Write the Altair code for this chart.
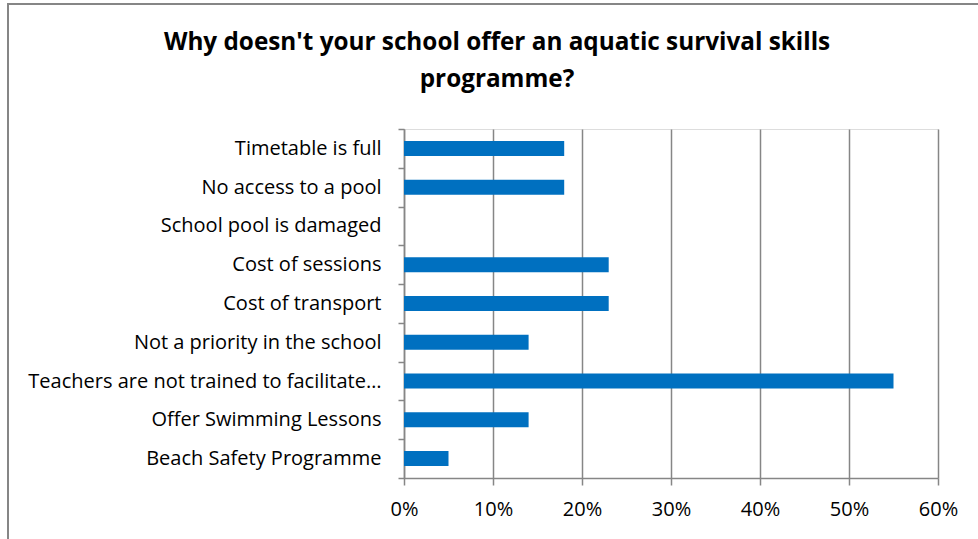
import altair as alt
import pandas as pd

categories = [
    "Timetable is full",
    "No access to a pool",
    "School pool is damaged",
    "Cost of sessions",
    "Cost of transport",
    "Not a priority in the school",
    "Teachers are not trained to facilitate…",
    "Offer Swimming Lessons",
    "Beach Safety Programme",
]
values = [0.18, 0.18, 0.0, 0.23, 0.23, 0.14, 0.55, 0.14, 0.05]
x_ticks = [0, 0.1, 0.2, 0.3, 0.4, 0.5, 0.6]
title_lines = ["Why doesn't your school offer an aquatic survival skills", "programme?"]

df = pd.DataFrame({"reason": categories, "share": values})

FONT = "Open Sans"
GRAY = "#868686"

bars = alt.Chart(df).mark_bar(size=15, color="#0070C0").encode(
    y=alt.Y(
        "reason:N",
        sort=categories,
        scale=alt.Scale(paddingInner=0, paddingOuter=0),
        axis=alt.Axis(
            title=None,
            domainColor=GRAY,
            domainWidth=1.5,
            tickColor=GRAY,
            tickWidth=1.5,
            tickSize=6,
            tickBand="extent",
            labelPadding=17,
            labelFont=FONT,
            labelFontSize=20,
            labelColor="#000000",
            labelLimit=400,
            grid=False,
        ),
    ),
    x=alt.X(
        "share:Q",
        scale=alt.Scale(domain=[0, 0.6], nice=False),
        axis=alt.Axis(
            title=None,
            format=".0%",
            values=x_ticks,
            domainColor=GRAY,
            domainWidth=1.5,
            tickColor=GRAY,
            tickWidth=1.5,
            tickSize=7,
            labelPadding=14,
            labelFlush=False,
            labelFont=FONT,
            labelFontSize=20,
            labelColor="#000000",
            grid=True,
            gridColor=GRAY,
            gridWidth=1.5,
        ),
    ),
)

border_left = alt.Chart(df).mark_rule(color=GRAY, strokeWidth=2).encode(
    x=alt.value(-396), y=alt.value(-125), y2=alt.value(420)
)
border_top = alt.Chart(df).mark_rule(color=GRAY, strokeWidth=2).encode(
    x=alt.value(-397), x2=alt.value(700), y=alt.value(-125)
)

title_df = pd.DataFrame({"line": title_lines, "row": [0, 1]})
title_marks = alt.Chart(title_df).mark_text(
    font=FONT, fontSize=24.3, fontWeight="bold", color="#000000",
    align="center", baseline="alphabetic",
).encode(
    text="line:N",
    x=alt.value(93),
    y=alt.Y("row:Q", scale=alt.Scale(domain=[0, 1], range=[-79, -42]), axis=None),
)

chart = alt.layer(border_left, border_top, bars, title_marks).resolve_scale(
    y="independent"
).properties(
    width=534,
    height=349,
    autosize=alt.AutoSizeParams(type="none"),
    padding={"left": 404, "top": 129, "right": 40, "bottom": 61},
).configure_view(stroke=None).configure(background="white")

chart.save("out.html", embed_options={"renderer": "svg", "actions": False})
